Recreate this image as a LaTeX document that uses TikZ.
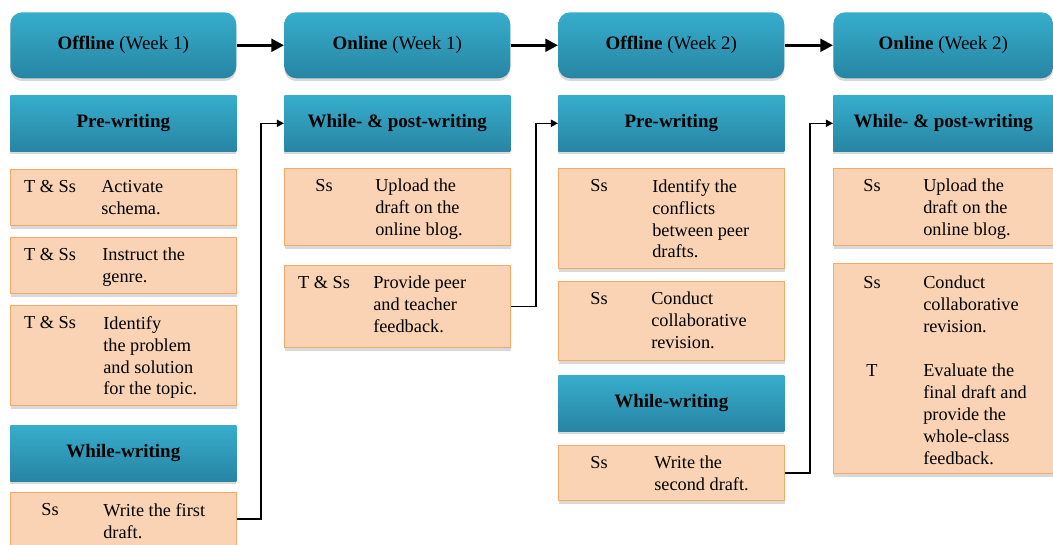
\documentclass[tikz,border=0pt]{standalone}
\usepackage{fontspec}
\setmainfont{Liberation Serif}
\newfontfamily\timesfont{Liberation Serif}
\usetikzlibrary{arrows.meta,shadows}
\definecolor{tealtop}{HTML}{37ADCC}
\definecolor{tealbot}{HTML}{2785A3}
\definecolor{peach}{HTML}{F9D3B3}
\definecolor{peachline}{HTML}{F5A868}

\begin{document}
\begin{tikzpicture}[x=0.025cm, y=-0.025cm,
  phase/.style={anchor=north west, inner sep=0pt, rounded corners=0.3cm,
    top color=tealtop, bottom color=tealbot, minimum height=1.65cm,
    drop shadow={shadow xshift=0pt, shadow yshift=-0.07cm, opacity=0.3},
    font=\timesfont\fontsize{13.5}{16}\selectfont},
  stage/.style={anchor=north west, inner sep=0pt,
    top color=tealtop, bottom color=tealbot, minimum height=1.4cm,
    drop shadow={shadow xshift=0pt, shadow yshift=-0.07cm, opacity=0.3},
    font=\timesfont\fontsize{13.5}{16}\selectfont\bfseries},
  task/.style={anchor=north west, inner sep=0pt, fill=peach, draw=peachline, line width=0.8pt,
    drop shadow={shadow xshift=0pt, shadow yshift=-0.08cm, opacity=0.3}},
  who/.style={anchor=north, inner sep=0pt, align=center, font=\timesfont\fontsize{13}{15.6}\selectfont},
  what/.style={anchor=north west, inner sep=0pt, align=left, font=\timesfont\fontsize{13}{15.6}\selectfont},
  week/.style={line width=2.2pt, -{Triangle[length=9pt, width=9pt]}},
  link/.style={line width=1.1pt, -{Triangle[length=5pt, width=5pt]}}]
  \useasboundingbox (0,0) rectangle (1053,545);

  % week headers
  \node[phase, minimum width=5.65cm] (h1) at (10,12) {\textbf{Offline} (Week 1)};
  \node[phase, minimum width=5.65cm] (h2) at (284,12) {\textbf{Online} (Week 1)};
  \node[phase, minimum width=5.65cm] (h3) at (558,12) {\textbf{Offline} (Week 2)};
  \node[phase, minimum width=5.5cm] (h4) at (833,12) {\textbf{Online} (Week 2)};

  % stages
  \node[stage, minimum width=5.65cm] (s1) at (10,95) {Pre-writing};
  \node[stage, minimum width=5.65cm] (s1w) at (10,425) {While-writing};
  \node[stage, minimum width=5.65cm] (s2) at (284,95) {While- \& post-writing};
  \node[stage, minimum width=5.65cm] (s3) at (558,95) {Pre-writing};
  \node[stage, minimum width=5.65cm] (s3w) at (558,375) {While-writing};
  \node[stage, minimum width=5.5cm] (s4) at (833,95) {While- \& post-writing};

  % column 1
  \node[task, minimum width=5.65cm, minimum height=1.4cm] (t1a) at (10,169) {};
  \node[who] (t1aw) at (50,180) {T \& Ss};
  \node[what] (t1at) at (101,180) {Activate\\schema.};
  \node[task, minimum width=5.65cm, minimum height=1.4cm] (t1b) at (10,237) {};
  \node[who] (t1bw) at (50,248) {T \& Ss};
  \node[what] (t1bt) at (102,248) {Instruct the\\genre.};
  \node[task, minimum width=5.65cm, minimum height=2.5cm] (t1c) at (10,305) {};
  \node[who] (t1cw) at (50,316) {T \& Ss};
  \node[what] (t1ct) at (103,316) {Identify\\the problem\\and solution\\for the topic.};
  \node[task, minimum width=5.65cm, minimum height=1.325cm] (t1d) at (10,492) {};
  \node[who] (t1dw) at (50,503) {Ss};
  \node[what] (t1dt) at (103,503) {Write the first\\draft.};

  % column 2
  \node[task, minimum width=5.65cm, minimum height=1.925cm] (t2a) at (284,168) {};
  \node[who] (t2aw) at (324,179) {Ss};
  \node[what] (t2at) at (375,179) {Upload the\\draft on the\\online blog.};
  \node[task, minimum width=5.65cm, minimum height=2.05cm] (t2b) at (284,265) {};
  \node[who] (t2bw) at (324,276) {T \& Ss};
  \node[what] (t2bt) at (373,276) {Provide peer\\and teacher\\feedback.};

  % column 3
  \node[task, minimum width=5.65cm, minimum height=2.5cm] (t3a) at (558,168) {};
  \node[who] (t3aw) at (599,179) {Ss};
  \node[what] (t3at) at (652,179) {Identify the\\conflicts\\between peer\\drafts.};
  \node[task, minimum width=5.65cm, minimum height=1.975cm] (t3b) at (558,281) {};
  \node[who] (t3bw) at (599,292) {Ss};
  \node[what] (t3bt) at (651,292) {Conduct\\collaborative\\revision.};
  \node[task, minimum width=5.65cm, minimum height=1.375cm] (t3c) at (558,445) {};
  \node[who] (t3cw) at (599,456) {Ss};
  \node[what] (t3ct) at (654,456) {Write the\\second draft.};

  % column 4
  \node[task, minimum width=5.5cm, minimum height=1.925cm] (t4a) at (833,168) {};
  \node[who] (t4aw) at (872,179) {Ss};
  \node[what] (t4at) at (923,179) {Upload the\\draft on the\\online blog.};
  \node[task, minimum width=5.5cm, minimum height=5.25cm] (t4b) at (833,263) {};
  \node[who] (t4bw) at (872,276) {Ss\\[3\baselineskip]T};
  \node[what] (t4bt) at (923,276) {Conduct\\collaborative\\revision.\\[\baselineskip]Evaluate the\\final draft and\\provide the\\whole-class\\feedback.};

  % arrows
  \draw[week] (h1.east) -- (h2.west);
  \draw[week] (h2.east) -- (h3.west);
  \draw[week] (h3.east) -- (h4.west);
  \draw[link] (t1d.east) -- ++(24,0) |- (s2.west);
  \draw[link] (t2b.east) -- ++(25,0) |- (s3.west);
  \draw[link] (t3c.east) -- ++(25,0) |- (s4.west);
\end{tikzpicture}
\end{document}
